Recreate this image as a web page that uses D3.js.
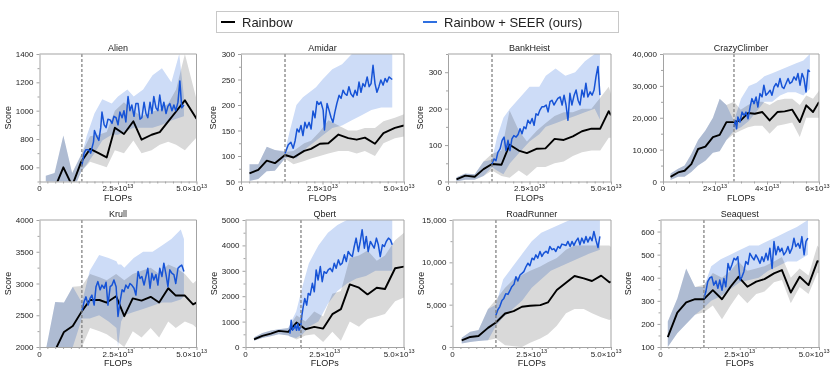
<!DOCTYPE html>
<html><head><meta charset="utf-8">
<script src="https://cdn.jsdelivr.net/npm/d3@7"></script>
<style>
body{margin:0;background:#fff;}
svg{display:block;font-family:"Liberation Sans",Arial,Helvetica,sans-serif;}
</style></head><body><svg id="c" width="830" height="374"></svg>
<script>
// ---------------- DATA (x in units of 1e13 FLOPs) ----------------
const games = ["Alien","Amidar","BankHeist","CrazyClimber","Krull","Qbert","RoadRunner","Seaquest"];
const legendLabels = ["Rainbow","Rainbow + SEER (ours)"];
const xMax = [5,5,5,6,5,5,5,5];
const xTickValues = [[0,2.5,5],[0,2.5,5],[0,2.5,5],[0,2,4,6],[0,2.5,5],[0,2.5,5],[0,2.5,5],[0,2.5,5]];
const xTickMantissa = [["0","2.5","5.0"],["0","2.5","5.0"],["0","2.5","5.0"],["0","2","4","6"],["0","2.5","5.0"],["0","2.5","5.0"],["0","2.5","5.0"],["0","2.5","5.0"]];
const xTickExponent = "13";
const yDomains = [[500,1400],[50,300],[0,350],[0,40000],[2000,4000],[0,5000],[0,15000],[100,650]];
const yTickValues = [
  [600,800,1000,1200,1400],[50,100,150,200,250,300],[0,100,200,300],[0,10000,20000,30000,40000],
  [2000,2500,3000,3500,4000],[0,1000,2000,3000,4000,5000],[0,5000,10000,15000],[100,200,300,400,500,600]];
const yUseCommas = [false,false,false,true,false,false,true,false];
const switchX = [1.35,1.35,1.35,2.73,1.35,1.75,1.37,1.37];

// Rainbow: [x, mean, lo, hi]
const alienRainbow = [[0.2,440,420,540],[0.48,450,420,560],[0.76,600,500,825],[1.04,470,420,560],[1.33,640,570,690],[1.61,730,640,820],[1.88,700,620,830],[2.14,670,600,850],[2.40,880,720,1000],[2.69,835,700,1060],[2.99,925,790,1000],[3.25,795,700,960],[3.57,830,720,990],[3.83,848,760,1010],[4.10,924,780,1050],[4.35,994,760,1150],[4.63,1073,720,1400],[5.0,943,810,1080]];
const amidarRainbow = [[0.26,66,51,84],[0.53,73,55,84],[0.79,91,70,118],[1.04,86,71,112],[1.35,102,95,108],[1.61,97,84,110],[1.94,110,90,125],[2.15,114,95,130],[2.42,124,100,148],[2.68,125,105,170],[2.99,142,110,160],[3.29,135,110,150],[3.55,132,105,150],[3.80,136,110,155],[4.11,124,100,155],[4.37,145,125,168],[4.72,155,135,175],[5.0,160,138,182]];
const bankHeistRainbow = [[0.26,6,0,12],[0.53,16,5,22],[0.82,13,5,20],[1.09,34,15,55],[1.35,48,30,76],[1.64,46,15,85],[1.89,101,10,195],[2.17,85,30,140],[2.42,78,15,110],[2.73,90,40,140],[2.99,91,40,160],[3.27,117,50,180],[3.55,114,55,190],[3.83,124,70,190],[4.11,138,80,200],[4.40,145,85,200],[4.67,145,85,230],[4.93,193,120,260],[5.0,182,120,240]];
const crazyClimberRainbow = [[0.29,1470,500,2500],[0.58,2840,1500,4000],[0.83,3370,1500,5000],[1.09,5470,3000,8600],[1.35,10200,5000,13000],[1.63,10950,6500,16000],[1.92,13900,9000,20000],[2.18,14630,9500,26000],[2.44,18630,13000,24000],[2.73,18630,15000,25000],[2.99,19160,16000,22500],[3.27,21470,17000,24000],[3.53,21260,17500,25000],[3.82,21790,17500,25000],[4.10,19160,15000,24000],[4.40,21790,17500,25500],[4.68,22000,18000,26000],[4.97,22530,18500,26000],[5.26,18630,14000,24000],[5.51,23900,20000,27000],[5.77,21790,20000,26000],[6.0,24950,20000,28500]];
const krullRainbow = [[0.22,1750,1500,2000],[0.5,1950,1800,2710],[0.78,2237,1900,2700],[1.06,2332,2000,2950],[1.35,2565,2000,2960],[1.61,2740,2300,3150],[1.91,2740,2250,3100],[2.14,2700,2200,3050],[2.44,2800,2100,3150],[2.70,2485,2000,3050],[2.97,2765,2250,3150],[3.25,2730,2150,3200],[3.54,2790,2300,3250],[3.81,2700,2150,3150],[4.10,2925,2400,3300],[4.34,2810,2300,3250],[4.63,2810,2400,3150],[4.89,2670,2350,3000],[5.0,2700,2300,3050]];
const qbertRainbow = [[0.27,303,250,380],[0.53,435,350,550],[0.8,528,420,650],[1.05,633,500,700],[1.35,594,450,750],[1.61,963,300,1250],[1.89,699,450,1000],[2.17,791,500,1400],[2.45,725,200,1200],[2.74,1293,600,2100],[3.01,1490,250,2200],[3.29,2466,1000,3500],[3.58,2335,800,3600],[3.85,2071,1100,3800],[4.14,2335,1200,3400],[4.40,2282,1300,3600],[4.72,3100,1800,4200],[5.0,3166,1950,4500]];
const roadRunnerRainbow = [[0.29,792,400,1100],[0.56,1187,600,1800],[0.82,1306,700,2000],[1.12,2256,800,4500],[1.37,2890,1000,5600],[1.66,3958,200,7000],[1.93,4235,100,8000],[2.19,4750,0,8500],[2.45,4868,500,9000],[2.77,4948,1000,9500],[3.01,5264,1500,10000],[3.29,6729,2500,10500],[3.58,7600,4000,11500],[3.85,8391,4500,12000],[4.14,8114,4500,12000],[4.40,7797,4000,12000],[4.69,8431,3500,12000],[4.95,7639,3200,12000],[5.0,7718,3300,11800]];
const seaquestRainbow = [[0.23,143,100,210],[0.53,249,160,310],[0.81,293,200,440],[1.09,307,240,360],[1.37,307,250,370],[1.65,346,280,420],[1.94,307,220,400],[2.21,361,280,430],[2.46,404,330,470],[2.74,361,290,430],[3.02,383,330,440],[3.28,394,340,450],[3.58,419,380,470],[3.83,433,390,490],[4.11,336,290,400],[4.39,404,360,440],[4.67,368,330,410],[4.95,472,420,540],[5.0,470,420,530]];

// Rainbow + SEER: [x, mean]
const alienSeer = [[1.35,612],[1.42,700],[1.48,725],[1.56,725],[1.63,700],[1.72,780],[1.75,860],[1.82,820],[1.89,790],[1.95,880],[1.99,990],[2.06,900],[2.12,880],[2.18,940],[2.25,935],[2.31,910],[2.37,960],[2.44,950],[2.50,900],[2.56,990],[2.63,950],[2.69,1000],[2.75,920],[2.82,1100],[2.88,1000],[2.94,1040],[3.01,960],[3.07,1050],[3.14,1050],[3.20,940],[3.26,950],[3.33,1060],[3.39,980],[3.45,950],[3.52,1060],[3.58,980],[3.64,1100],[3.71,1020],[3.77,1000],[3.83,1110],[3.90,1000],[3.96,1060],[4.03,980],[4.09,1030],[4.15,1050],[4.22,1000],[4.28,1040],[4.34,1000],[4.41,1060],[4.47,1210],[4.53,1020],[4.60,1040]];
const amidarSeer = [[1.35,105],[1.45,122],[1.53,127],[1.60,115],[1.66,130],[1.72,153],[1.78,147],[1.84,160],[1.90,140],[1.96,166],[2.02,155],[2.09,166],[2.15,153],[2.21,188],[2.27,175],[2.33,207],[2.39,201],[2.45,206],[2.52,190],[2.56,151],[2.64,203],[2.70,190],[2.76,176],[2.82,166],[2.88,186],[2.94,203],[3.01,219],[3.07,213],[3.13,229],[3.19,222],[3.25,219],[3.31,236],[3.37,222],[3.44,216],[3.50,229],[3.56,219],[3.62,245],[3.68,225],[3.74,242],[3.80,236],[3.87,255],[3.93,236],[3.99,242],[4.05,278],[4.11,242],[4.17,225],[4.23,236],[4.29,249],[4.36,239],[4.42,252],[4.48,245],[4.54,255],[4.60,252],[4.64,250]];
const bankHeistSeer = [[1.35,48],[1.41,62],[1.47,57],[1.53,80],[1.60,90],[1.66,113],[1.72,122],[1.78,85],[1.84,113],[1.90,85],[1.96,117],[2.02,126],[2.09,122],[2.15,129],[2.21,145],[2.27,131],[2.33,150],[2.39,145],[2.45,168],[2.52,159],[2.58,173],[2.64,154],[2.70,186],[2.76,182],[2.82,196],[2.88,205],[2.94,205],[3.01,210],[3.07,191],[3.13,219],[3.19,223],[3.25,210],[3.31,219],[3.37,228],[3.44,232],[3.50,210],[3.56,237],[3.62,210],[3.68,168],[3.74,242],[3.80,210],[3.87,237],[3.93,251],[3.99,223],[4.05,210],[4.11,251],[4.17,232],[4.23,270],[4.29,232],[4.36,246],[4.42,237],[4.48,251],[4.54,288],[4.60,316],[4.66,237]];
const crazyClimberSeer = [[2.73,17050],[2.78,19160],[2.83,16530],[2.88,20200],[2.96,18630],[3.04,21790],[3.12,20750],[3.19,21790],[3.27,19680],[3.35,23370],[3.42,26000],[3.50,24420],[3.58,26530],[3.65,23370],[3.73,27580],[3.81,26530],[3.88,30210],[3.96,27050],[4.04,27790],[4.12,28630],[4.19,27050],[4.27,29680],[4.35,30740],[4.42,29680],[4.50,32320],[4.58,29680],[4.65,29160],[4.73,30740],[4.81,32320],[4.88,30740],[4.96,31260],[5.04,32840],[5.12,31790],[5.19,33890],[5.27,30210],[5.35,33890],[5.42,32320],[5.50,28100],[5.58,34950],[5.65,34420]];
const krullSeer = [[1.35,2565],[1.42,2712],[1.48,2790],[1.55,2660],[1.61,2765],[1.67,2818],[1.74,2660],[1.80,2950],[1.86,3030],[1.93,2900],[1.99,2975],[2.06,2925],[2.12,3020],[2.18,2660],[2.25,2950],[2.31,2975],[2.37,3055],[2.44,2950],[2.50,2480],[2.56,2700],[2.63,2900],[2.69,2870],[2.75,2975],[2.82,2925],[2.88,3000],[2.94,2975],[3.01,2925],[3.07,2818],[3.14,3190],[3.20,3080],[3.26,3110],[3.33,2975],[3.39,3110],[3.45,3240],[3.52,2925],[3.58,3160],[3.64,3055],[3.71,3140],[3.77,2975],[3.83,3240],[3.90,3110],[3.96,3320],[4.03,3140],[4.09,2950],[4.15,3215],[4.22,3160],[4.28,3140],[4.34,3000],[4.41,3240],[4.47,3270],[4.53,3290],[4.60,3190]];
const qbertSeer = [[1.40,528],[1.44,1055],[1.48,660],[1.53,725],[1.57,857],[1.61,660],[1.65,923],[1.69,660],[1.74,791],[1.78,1253],[1.82,1583],[1.87,1912],[1.93,1649],[1.98,2110],[2.04,2044],[2.11,2506],[2.17,2176],[2.23,3034],[2.29,2638],[2.36,3166],[2.42,2572],[2.48,2968],[2.55,2902],[2.61,3034],[2.67,3100],[2.74,2968],[2.80,3298],[2.86,3100],[2.93,3430],[2.99,3232],[3.05,3298],[3.12,3628],[3.18,3364],[3.24,3760],[3.31,3628],[3.37,3562],[3.43,3957],[3.49,4287],[3.56,3760],[3.62,4155],[3.68,4617],[3.75,3891],[3.81,4353],[3.87,3760],[3.94,4155],[4.00,4023],[4.06,3891],[4.13,4287],[4.19,4023],[4.25,3562],[4.32,4023],[4.38,3957],[4.44,4155],[4.51,4287],[4.57,4221],[4.63,4023]];
const roadRunnerSeer = [[1.37,3760],[1.43,4400],[1.49,4750],[1.56,5500],[1.62,5740],[1.68,6300],[1.75,6214],[1.81,6650],[1.87,7124],[1.94,7400],[2.00,8310],[2.06,7800],[2.13,8510],[2.19,8700],[2.25,8906],[2.32,9500],[2.38,9895],[2.44,9600],[2.51,10490],[2.57,10300],[2.63,10885],[2.69,10500],[2.76,11280],[2.82,10700],[2.88,11080],[2.95,11300],[3.01,11080],[3.07,11875],[3.14,11500],[3.20,11600],[3.26,11280],[3.33,11875],[3.39,11675],[3.45,12150],[3.52,12070],[3.58,11990],[3.64,12470],[3.71,11875],[3.77,12470],[3.83,12000],[3.89,12470],[3.96,12860],[4.02,12070],[4.08,12860],[4.15,12270],[4.21,13060],[4.27,12390],[4.34,13000],[4.40,12545],[4.46,13655],[4.53,12545],[4.59,11750],[4.65,13060]];
const seaquestSeer = [[1.37,310],[1.43,339],[1.49,383],[1.56,400],[1.62,404],[1.68,368],[1.75,386],[1.81,354],[1.87,390],[1.94,346],[2.00,397],[2.06,361],[2.13,462],[2.19,433],[2.25,455],[2.32,484],[2.38,477],[2.44,491],[2.51,390],[2.57,404],[2.63,426],[2.69,470],[2.76,458],[2.82,506],[2.88,491],[2.95,477],[3.01,499],[3.07,484],[3.14,462],[3.20,491],[3.26,470],[3.33,506],[3.39,477],[3.45,528],[3.52,440],[3.58,557],[3.64,499],[3.71,535],[3.77,513],[3.83,528],[3.89,499],[3.96,513],[4.02,535],[4.08,506],[4.15,528],[4.21,571],[4.27,535],[4.34,549],[4.40,528],[4.46,578],[4.53,499],[4.59,557],[4.65,571]];

// Rainbow + SEER spread: [x, lo, hi]
const alienSeerBand = [[1.35,580,690],[1.5,620,820],[1.75,700,980],[2.0,790,1080],[2.3,830,1050],[2.5,830,1100],[2.8,860,1150],[3.0,880,1100],[3.3,880,1150],[3.6,880,1250],[3.9,900,1300],[4.2,930,1200],[4.45,950,1400],[4.6,960,1100]];
const amidarSeerBand = [[1.35,95,110],[1.5,100,150],[1.7,95,200],[1.9,110,215],[2.1,120,225],[2.3,130,235],[2.5,140,250],[2.8,155,270],[3.1,160,280],[3.4,170,300],[3.7,180,300],[4.0,190,300],[4.3,195,300],[4.64,195,300]];
const bankHeistSeerBand = [[1.35,40,60],[1.5,30,120],[1.7,20,175],[1.9,50,200],[2.2,80,230],[2.5,110,260],[2.8,130,260],[3.0,150,290],[3.3,160,310],[3.6,170,290],[3.9,180,300],[4.2,190,330],[4.5,200,350],[4.66,170,350]];
const crazyClimberSeerBand = [[2.73,16000,19000],[3.0,17000,26000],[3.3,19000,30000],[3.6,22000,31000],[3.9,25000,33000],[4.2,25000,34000],[4.5,27000,35000],[4.8,28000,36000],[5.1,28000,37000],[5.4,27000,38000],[5.65,29000,40000]];
const krullSeerBand = [[1.35,2450,2700],[1.6,2450,3200],[1.9,2500,3450],[2.2,2400,3400],[2.45,2300,3350],[2.5,2000,3300],[2.6,2400,3300],[2.7,2500,3250],[3.0,2550,3400],[3.3,2600,3500],[3.6,2650,3500],[3.9,2700,3600],[4.2,2700,3700],[4.5,2750,3850],[4.6,2800,3700]];
const qbertSeerBand = [[1.4,400,900],[1.6,350,1400],[1.8,500,2400],[2.0,800,3300],[2.3,1000,4000],[2.6,1700,4500],[2.9,2200,4800],[3.2,2500,5000],[3.5,2700,5000],[3.8,2800,5000],[4.1,3000,5000],[4.4,3000,5000],[4.63,3000,5000]];
const roadRunnerSeerBand = [[1.37,2500,5000],[1.6,3500,8000],[1.9,4500,9500],[2.2,5500,11000],[2.5,7000,12500],[2.8,8000,13500],[3.1,9000,14000],[3.4,9500,14500],[3.7,10000,15000],[4.0,10500,15000],[4.3,11000,15000],[4.65,11500,15000]];
const seaquestSeerBand = [[1.37,270,360],[1.6,300,450],[1.9,320,480],[2.2,350,500],[2.5,380,520],[2.8,390,540],[3.1,400,540],[3.4,430,560],[3.7,450,580],[4.0,470,600],[4.3,470,620],[4.65,500,650]];

const rainbowSeries = [alienRainbow,amidarRainbow,bankHeistRainbow,crazyClimberRainbow,krullRainbow,qbertRainbow,roadRunnerRainbow,seaquestRainbow];
const seerSeries = [alienSeer,amidarSeer,bankHeistSeer,crazyClimberSeer,krullSeer,qbertSeer,roadRunnerSeer,seaquestSeer];
const seerBands = [alienSeerBand,amidarSeerBand,bankHeistSeerBand,crazyClimberSeerBand,krullSeerBand,qbertSeerBand,roadRunnerSeerBand,seaquestSeerBand];

// ---------------- LAYOUT / STYLE ----------------
const boxes = [
  {l:39.5,r:196.5,t:54,b:181.5},{l:241,r:404,t:54,b:181.5},{l:448,r:611,t:54,b:181.5},{l:663,r:819,t:54,b:181.5},
  {l:39.5,r:196.5,t:220,b:347},{l:245.5,r:404,t:220,b:347},{l:452.5,r:611,t:220,b:347},{l:660.5,r:819,t:220,b:347}];
const scoreLabelX = [8,213,420,null,8,214,421,628];
const COL_BLACK = "#000";
const COL_BLUE = "#1653d6";
const AXIS_COL = "#a3a3a3";
const TEXT_COL = "#222";
const GRAY_BAND = "rgb(217,217,217)";
const BLUE_BAND = "rgb(205,220,247)";

const svg = d3.select("#c");
const defs = svg.append("defs");

// Legend
const lg = svg.append("g");
lg.append("rect").attr("x",216.5).attr("y",11.5).attr("width",402).attr("height",21)
  .attr("fill","#fff").attr("stroke","#c8c8c8").attr("stroke-width",1);
const legendItems = [{x:221,col:COL_BLACK,label:legendLabels[0]},{x:423,col:"#2f6fe0",label:legendLabels[1]}];
legendItems.forEach(it=>{
  lg.append("line").attr("x1",it.x).attr("x2",it.x+14).attr("y1",22).attr("y2",22)
    .attr("stroke",it.col).attr("stroke-width",2);
  lg.append("text").attr("x",it.x+21).attr("y",26.5).attr("font-size",13).attr("fill",TEXT_COL).text(it.label);
});

games.forEach((game,i)=>{
  const b = boxes[i];
  const x = d3.scaleLinear().domain([0,xMax[i]]).range([b.l,b.r]);
  const y = d3.scaleLinear().domain(yDomains[i]).range([b.b,b.t]);
  const g = svg.append("g");

  defs.append("clipPath").attr("id","clip"+i).append("rect")
    .attr("x",b.l).attr("y",b.t).attr("width",b.r-b.l).attr("height",b.b-b.t);
  const plot = g.append("g").attr("clip-path",`url(#clip${i})`);

  const rb = rainbowSeries[i], sd = seerSeries[i], sb = seerBands[i];
  // Rainbow spread (gray)
  plot.append("path").datum(rb)
    .attr("d",d3.area().x(d=>x(d[0])).y0(d=>y(d[2])).y1(d=>y(d[3])))
    .attr("fill",GRAY_BAND).style("mix-blend-mode","multiply");
  // SEER spread (identical to Rainbow before the freeze point)
  const fullBand = rb.filter(d=>d[0] < sb[0][0]).map(d=>[d[0],d[2],d[3]]).concat(sb);
  plot.append("path").datum(fullBand)
    .attr("d",d3.area().x(d=>x(d[0])).y0(d=>y(d[1])).y1(d=>y(d[2])))
    .attr("fill",BLUE_BAND).style("mix-blend-mode","multiply");

  // freeze line
  g.append("line").attr("x1",x(switchX[i])).attr("x2",x(switchX[i])).attr("y1",b.t).attr("y2",b.b)
    .attr("stroke","#7a7a7a").attr("stroke-width",1.2).attr("stroke-dasharray","3,2");

  plot.append("path").datum(rb)
    .attr("d",d3.line().x(d=>x(d[0])).y(d=>y(d[1])))
    .attr("fill","none").attr("stroke",COL_BLACK).attr("stroke-width",1.9).attr("stroke-linejoin","round");
  plot.append("path").datum(sd)
    .attr("d",d3.line().x(d=>x(d[0])).y(d=>y(d[1])))
    .attr("fill","none").attr("stroke",COL_BLUE).attr("stroke-width",1.5).attr("stroke-linejoin","round");

  // frame (top/right)
  g.append("path").attr("d",`M${b.l},${b.t}H${b.r}V${b.b}`).attr("fill","none").attr("stroke",AXIS_COL).attr("stroke-width",1);

  // Y axis
  const yt = yTickValues[i];
  const ystep = yt[1]-yt[0];
  const yMinor = d3.range(yDomains[i][0], yDomains[i][1]+1e-9, ystep/2).filter(v=>!yt.some(t=>Math.abs(t-v)<1e-9));
  const fmt = yUseCommas[i] ? d3.format(",") : d3.format("d");
  const ya = g.append("g").attr("transform",`translate(${b.l},0)`)
    .call(d3.axisLeft(y).tickValues(yt).tickSize(3).tickPadding(3).tickSizeOuter(0).tickFormat(fmt));
  g.append("g").attr("transform",`translate(${b.l},0)`)
    .call(d3.axisLeft(y).tickValues(yMinor).tickSize(2).tickSizeOuter(0).tickFormat(""))
    .call(s=>s.select(".domain").remove());

  // X axis
  const xt = xTickValues[i];
  const xMinorStep = xMax[i]===6 ? 0.5 : 0.25;
  const xMinor = d3.range(0, xMax[i]+1e-9, xMinorStep).filter(v=>!xt.some(t=>Math.abs(t-v)<1e-9));
  g.append("g").attr("transform",`translate(0,${b.b})`)
    .call(d3.axisBottom(x).tickValues(xt).tickSize(3).tickSizeOuter(0).tickFormat(""));
  g.append("g").attr("transform",`translate(0,${b.b})`)
    .call(d3.axisBottom(x).tickValues(xMinor).tickSize(2).tickSizeOuter(0).tickFormat(""))
    .call(s=>s.select(".domain").remove());

  g.selectAll(".domain, .tick line").attr("stroke",AXIS_COL);
  ya.selectAll("text").attr("fill",TEXT_COL).attr("font-size",8).attr("font-family","Liberation Sans, Arial, sans-serif");

  // x tick labels with superscript exponent
  xt.forEach((v,k)=>{
    const m = xTickMantissa[i][k];
    const last = k===xt.length-1;
    const t = g.append("text").attr("y",b.b+9.5).attr("font-size",8).attr("fill",TEXT_COL)
      .attr("x", last ? x(v)+10.5 : x(v)).attr("text-anchor", last ? "end" : "middle");
    if(v===0){ t.text(m); return; }
    t.append("tspan").text(m+"\u00d710");
    t.append("tspan").attr("dy",-3.5).attr("font-size",5.5).text(xTickExponent);
  });

  // titles and axis labels
  g.append("text").attr("x",(b.l+b.r)/2).attr("y",b.t-3).attr("text-anchor","middle")
    .attr("font-size",9).attr("fill",TEXT_COL).text(game);
  g.append("text").attr("x",(b.l+b.r)/2).attr("y",b.b+19).attr("text-anchor","middle")
    .attr("font-size",9).attr("fill",TEXT_COL).text("FLOPs");
  if(scoreLabelX[i]!==null){
    g.append("text").attr("transform",`translate(${scoreLabelX[i]},${(b.t+b.b)/2}) rotate(-90)`)
      .attr("text-anchor","middle").attr("dy","0.35em").attr("font-size",9).attr("fill",TEXT_COL).text("Score");
  }
});
</script></body></html>
